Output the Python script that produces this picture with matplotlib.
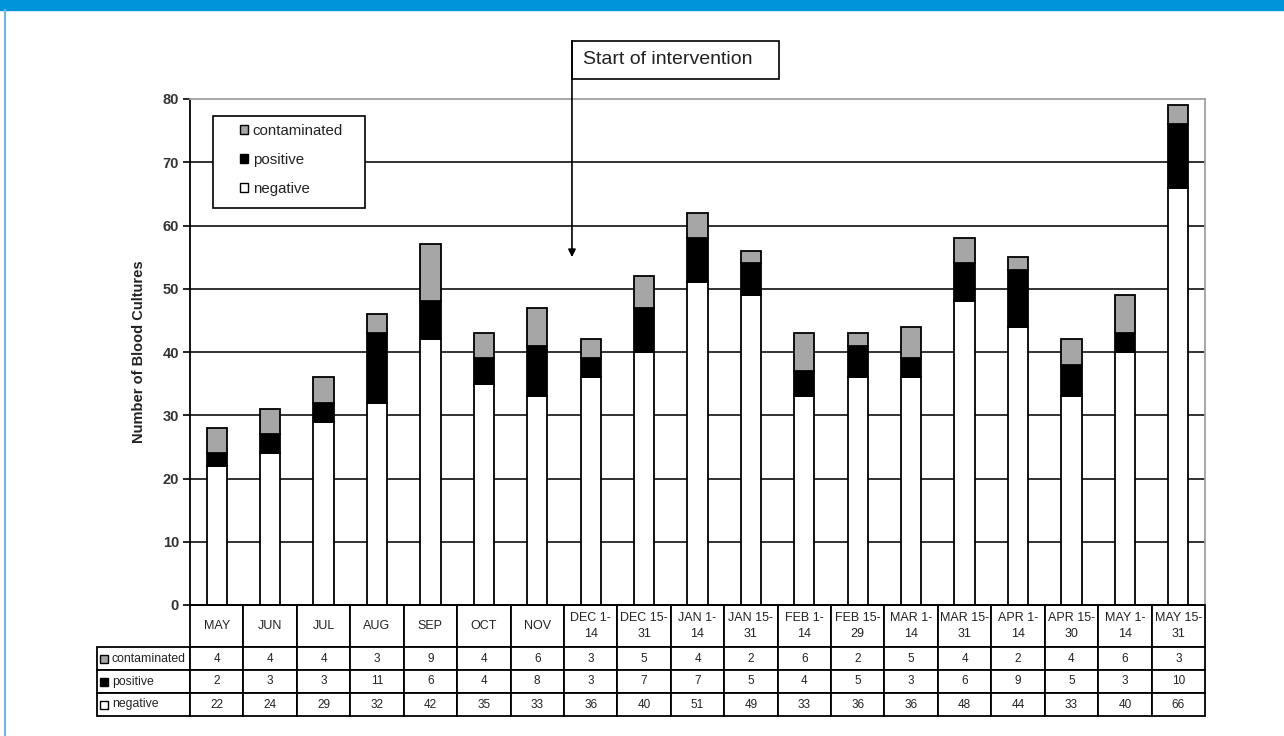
import matplotlib.pyplot as plt
from matplotlib.patches import Rectangle, Patch
from matplotlib.lines import Line2D

plt.rcParams["font.family"] = ["Liberation Sans", "DejaVu Sans"]

periods = ["MAY", "JUN", "JUL", "AUG", "SEP", "OCT", "NOV", "DEC 1-\n14", "DEC 15-\n31",
           "JAN 1-\n14", "JAN 15-\n31", "FEB 1-\n14", "FEB 15-\n29", "MAR 1-\n14", "MAR 15-\n31",
           "APR 1-\n14", "APR 15-\n30", "MAY 1-\n14", "MAY 15-\n31"]
negative = [22, 24, 29, 32, 42, 35, 33, 36, 40, 51, 49, 33, 36, 36, 48, 44, 33, 40, 66]
positive = [2, 3, 3, 11, 6, 4, 8, 3, 7, 7, 5, 4, 5, 3, 6, 9, 5, 3, 10]
contaminated = [4, 4, 4, 3, 9, 4, 6, 3, 5, 4, 2, 6, 2, 5, 4, 2, 4, 6, 3]

series = ["contaminated", "positive", "negative"]
colors = {"contaminated": "#a6a6a6", "positive": "#000000", "negative": "#ffffff"}

intervention_x = 6.65   # between NOV and DEC 1-14

fig = plt.figure(figsize=(12.84, 7.36), dpi=100)
ax = fig.add_axes([190 / 1284, 1 - 605 / 736, 1015 / 1284, 506 / 736])

# page decoration: blue header strip and left rule
fig.patches.append(Rectangle((0, 1 - 10 / 736), 1, 10 / 736, transform=fig.transFigure,
                             color="#0095da", zorder=0))
fig.lines.append(Line2D([5.5 / 1284, 5.5 / 1284], [0, 1 - 10 / 736], transform=fig.transFigure,
                        color="#6cb8e6", lw=1.5))

x = list(range(len(periods)))
w = 0.38
bot2 = [n + p for n, p in zip(negative, positive)]
ax.bar(x, negative, w, color=colors["negative"], edgecolor="black", lw=1.3, zorder=2)
ax.bar(x, positive, w, bottom=negative, color=colors["positive"], edgecolor="black", lw=1.3, zorder=2)
ax.bar(x, contaminated, w, bottom=bot2, color=colors["contaminated"], edgecolor="black", lw=1.3, zorder=2)

ax.set_xlim(-0.5, len(periods) - 0.5)
ax.set_ylim(0, 80)
ax.set_yticks(range(0, 81, 10))
for y in range(10, 80, 10):
    ax.axhline(y, color="#222222", lw=1.3, zorder=0)
ax.set_xticks([])
ax.tick_params(axis="y", length=5, width=1.2, labelsize=10.5, labelcolor="#333333", pad=3)
for lab in ax.get_yticklabels():
    lab.set_fontweight("bold")
ax.spines["left"].set_linewidth(1.3)
ax.spines["bottom"].set_linewidth(1.3)
for s in ("top", "right"):
    ax.spines[s].set_color("#a0a0a0")
    ax.spines[s].set_linewidth(1.3)
ax.set_ylabel("Number of Blood Cultures", fontsize=10.5, fontweight="bold", color="#222222",
              labelpad=12)

# legend: frame drawn separately so its padding can be set freely
ax.add_patch(Rectangle((23 / 1015, (605 - 208) / 506), 152 / 1015, 92 / 506, transform=ax.transAxes,
                       facecolor="white", edgecolor="black", lw=1.2, zorder=4))
handles = [Patch(facecolor=colors[s], edgecolor="black", lw=1.0) for s in series]
leg = ax.legend(handles, series, loc="upper left", bbox_to_anchor=(50 / 1015, (605 - 124) / 506),
                borderaxespad=0, borderpad=0, fontsize=10.8, handlelength=0.55, handleheight=0.55,
                handletextpad=0.3, labelspacing=1.0, frameon=False)
for t in leg.get_texts():
    t.set_color("#222222")
leg.set_zorder(5)

# intervention marker
ax.add_patch(Rectangle((intervention_x, 83.2), 3.875, 6.0, facecolor="white", edgecolor="black",
                       lw=1.2, clip_on=False, zorder=5))
ax.text(intervention_x + 0.2, 86.2, "Start of intervention", fontsize=14, color="#222222",
        va="center", ha="left", zorder=6)
ax.annotate("", xy=(intervention_x, 55), xytext=(intervention_x, 89.2),
            arrowprops=dict(arrowstyle="-|>", color="black", lw=1.2, mutation_scale=11,
                            shrinkA=0, shrinkB=0),
            annotation_clip=False, zorder=5)

# data table under the bars; first column holds the series names
counts = {"contaminated": contaminated, "positive": positive, "negative": negative}
cell_text = [[s] + [str(v) for v in counts[s]] for s in series]
tab = ax.table(cellText=cell_text, colLabels=[""] + periods, cellLoc="center",
               bbox=[-93 / 1015, -111 / 506, 1108 / 1015, 111 / 506])
tab.auto_set_font_size(False)
tab.set_fontsize(8.5)
for (r, c), cell in tab.get_celld().items():
    cell.set_linewidth(1.3)
    cell.set_height(42 if r == 0 else 23)
    cell.set_width(93 if c == 0 else 1015 / 19)
    cell.get_text().set_color("#222222")
    if r == 0:
        cell.get_text().set_fontsize(9)
        cell.get_text().set_linespacing(1.5)
    if c == 0:
        cell.PAD = 0.16
        cell.get_text().set_horizontalalignment("left")
        cell.get_text().set_fontsize(8.8)
tab[0, 0].set_visible(False)

# colour keys in the series-name column
row_centres = [-(42 + 11.5) / 506, -(42 + 34.5) / 506, -(42 + 57.5) / 506]
for s, yc in zip(series, row_centres):
    ax.add_patch(Rectangle((-90 / 1015, yc - 4 / 506), 8 / 1015, 8 / 506, transform=ax.transAxes,
                           facecolor=colors[s], edgecolor="black", lw=1.0, clip_on=False, zorder=6))

fig.savefig("out.png", dpi=100)
